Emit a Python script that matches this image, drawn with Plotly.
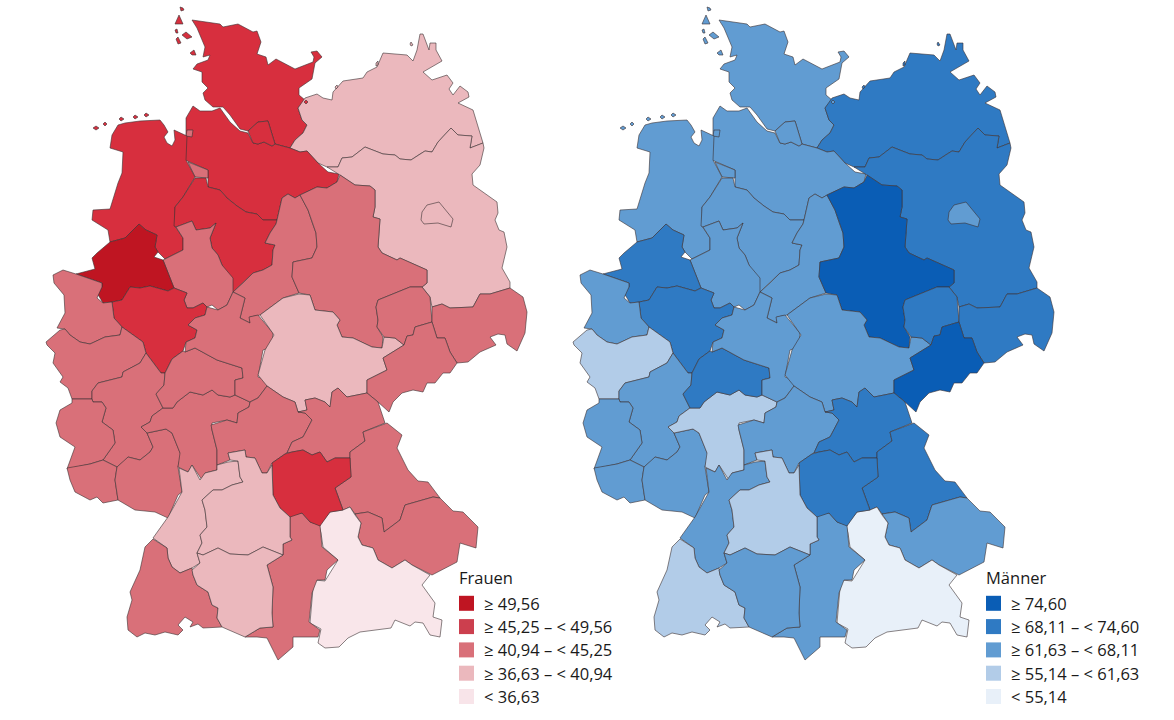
import plotly.graph_objects as go

# outlines, x/y on the left map's own grid
SCHLESWIG = [(192,20),(220,24),(223,27),(238,24),(253,32),(257,31),(261,42),(257,54),(266,57),(268,65),(276,59),(295,69),(313,62),(314,57),(311,52),(317,51),(322,57),(315,63),(312,79),(299,88),(299,95),(305,100),(298,108),(302,120),(307,125),(303,133),(295,140),(290,148),(275,144),(268,121),(258,122),(248,131),(240,129),(230,115),(223,107),(213,107),(205,100),(203,93),(208,88),(202,82),(202,72),(193,69),(197,64),(208,60),(210,55),(203,57),(205,47),(197,28)]
HAMBURG = [(248,131),(258,122),(268,121),(272,135),(275,144),(272,146),(264,142),(258,144),(253,143)]
MECKLENBURG = [(298,108),(302,120),(307,125),(303,133),(295,140),(290,148),(300,152),(307,151),(318,163),(327,167),(338,167),(342,158),(352,157),(365,147),(383,154),(395,155),(400,159),(411,160),(420,154),(425,151),(432,152),(438,142),(451,128),(458,135),(472,136),(470,148),(483,143),(473,110),(458,103),(469,97),(468,92),(460,86),(453,95),(449,89),(453,83),(447,75),(432,80),(423,72),(442,61),(436,50),(436,43),(430,43),(429,50),(423,34),(420,34),(417,50),(413,61),(407,55),(383,53),(377,67),(367,72),(363,78),(343,81),(333,92),(332,100),(323,98),(317,94),(305,98)]
LUENEBURG = [(186,118),(193,106),(200,111),(212,111),(220,108),(230,122),(240,131),(248,133),(253,143),(258,144),(264,142),(272,146),(275,144),(290,148),(300,152),(307,151),(318,163),(328,172),(339,174),(337,182),(327,188),(317,187),(300,195),(295,198),(288,194),(282,198),(277,220),(263,220),(257,214),(246,212),(237,206),(227,198),(220,190),(208,187),(208,170),(188,162),(185,160),(186,137)]
BREMEN = [(188,162),(208,170),(208,178),(195,177)]
BREMERHAVEN = [(187,130),(193,130),(192,137),(186,136)]
WESER_EMS = [(93,210),(110,209),(118,183),(122,173),(123,152),(110,148),(112,135),(118,125),(125,123),(140,121),(160,120),(164,125),(168,132),(164,137),(167,143),(172,146),(175,140),(174,130),(187,136),(186,160),(195,177),(183,197),(175,207),(175,226),(183,238),(183,250),(165,259),(158,252),(155,247),(157,235),(146,230),(139,224),(125,238),(110,242),(108,230),(92,220)]
HANNOVER = [(174,226),(175,207),(183,197),(195,178),(206,178),(208,187),(220,190),(227,198),(237,206),(246,212),(257,214),(263,220),(277,220),(276,224),(270,233),(265,243),(275,245),(273,250),(272,265),(263,270),(253,273),(243,283),(233,292),(222,265),(218,255),(212,248),(210,238),(216,223),(210,228),(196,230),(192,221),(176,227)]
MUENSTER = [(76,274),(95,269),(92,258),(97,253),(110,242),(125,238),(139,224),(146,230),(157,235),(155,247),(158,252),(154,257),(163,260),(174,288),(168,291),(150,286),(140,288),(130,287),(122,300),(112,302),(103,303),(97,293),(102,287),(102,283)]
DETMOLD = [(163,260),(183,250),(183,238),(176,227),(192,221),(196,230),(210,228),(216,223),(210,238),(212,248),(218,255),(222,265),(233,278),(233,292),(227,305),(218,310),(212,305),(207,307),(203,303),(193,308),(187,308),(184,300),(187,293),(174,288)]
ARNSBERG = [(130,287),(140,288),(150,286),(168,291),(174,288),(187,293),(184,300),(187,308),(193,308),(203,303),(207,307),(205,315),(195,318),(188,325),(197,330),(195,338),(186,342),(183,351),(172,359),(165,373),(161,373),(146,353),(143,342),(122,327),(114,318),(112,302),(122,300)]
AACHEN = [(53,275),(63,270),(76,274),(102,283),(102,287),(97,298),(103,303),(112,302),(114,318),(122,327),(120,335),(105,337),(90,344),(80,342),(70,335),(65,329),(57,328),(65,313),(64,295),(54,283)]
KOBLENZ = [(46,342),(60,330),(65,329),(70,335),(80,342),(90,344),(105,337),(120,335),(122,327),(143,342),(146,353),(140,363),(123,372),(122,377),(98,383),(92,391),(92,399),(72,399),(68,388),(60,382),(63,377),(53,363),(55,353),(47,345)]
RHEINHESSEN = [(92,399),(92,391),(98,383),(122,377),(123,372),(140,363),(146,353),(161,373),(165,373),(164,385),(156,394),(163,408),(152,416),(150,422),(141,427),(147,433),(153,447),(150,452),(140,460),(128,457),(123,462),(117,467),(103,460),(115,443),(113,430),(102,422),(106,408),(102,402),(93,402)]
TRIER = [(72,399),(92,399),(93,402),(102,402),(106,408),(102,422),(113,430),(115,443),(103,460),(90,464),(67,469),(70,460),(75,447),(60,437),(56,423),(60,410),(72,403)]
SAAR = [(67,468),(90,464),(103,460),(117,467),(115,480),(118,500),(103,503),(97,497),(90,500),(75,492),(70,480)]
KARLSRUHE = [(147,433),(153,447),(150,452),(140,460),(128,457),(123,462),(117,467),(115,480),(118,500),(135,510),(155,512),(168,518),(178,495),(182,492),(178,467),(181,455),(172,433),(166,429)]
DARMSTADT = [(141,427),(147,433),(166,429),(172,433),(180,453),(178,467),(188,472),(192,465),(202,480),(205,473),(217,470),(217,450),(212,430),(212,423),(227,420),(237,423),(238,413),(249,407),(250,402),(235,395),(230,397),(218,395),(212,390),(203,395),(190,392),(177,402),(173,408),(163,408),(152,416),(150,422)]
GIESSEN = [(165,373),(164,385),(156,394),(163,408),(173,408),(177,402),(190,392),(203,395),(212,390),(218,395),(230,397),(235,395),(235,380),(243,378),(242,368),(232,365),(217,360),(195,348),(185,352),(183,351),(172,359)]
KASSEL = [(186,342),(195,338),(197,330),(188,325),(195,318),(205,315),(207,307),(218,310),(227,305),(233,292),(245,298),(240,318),(250,323),(249,317),(258,315),(273,333),(272,347),(263,350),(258,377),(267,380),(267,386),(258,398),(250,402),(235,395),(235,380),(243,378),(242,368),(232,365),(217,360),(195,348),(185,352)]
GOETTINGEN = [(277,220),(282,198),(288,194),(295,198),(300,195),(308,210),(312,222),(316,233),(317,247),(312,258),(293,262),(292,277),(299,293),(283,298),(260,315),(250,317),(250,323),(240,318),(245,298),(233,292),(243,283),(253,273),(263,270),(272,265),(273,250),(275,245),(265,243),(270,233),(276,224)]
MAGDEBURG = [(340,175),(355,185),(370,186),(375,190),(375,207),(373,217),(380,219),(378,247),(382,253),(397,260),(400,258),(427,270),(427,283),(422,287),(410,287),(378,300),(376,307),(378,320),(377,327),(383,337),(382,348),(372,347),(353,338),(342,337),(337,325),(340,320),(333,312),(315,310),(310,295),(299,293),(292,277),(293,262),(312,258),(317,247),(316,233),(312,222),(308,210),(300,195),(317,187),(327,188),(337,182)]
BRANDENBURG = [(327,167),(338,167),(342,158),(352,157),(365,147),(383,154),(395,155),(400,159),(411,160),(420,154),(425,151),(432,152),(438,142),(451,128),(458,135),(472,136),(470,148),(483,143),(484,148),(480,165),(472,174),(473,185),(497,202),(498,213),(495,220),(499,230),(504,232),(507,247),(502,268),(510,282),(510,288),(490,294),(480,294),(473,307),(450,308),(442,304),(432,307),(430,297),(422,287),(427,283),(427,270),(400,258),(397,260),(382,253),(378,247),(380,219),(373,217),(375,207),(375,190),(370,186),(355,185),(340,175)]
BERLIN = [(422,212),(427,205),(439,202),(453,219),(451,227),(438,223),(424,224),(421,220)]
THUERINGEN = [(299,294),(310,295),(315,310),(333,312),(340,320),(337,325),(342,337),(353,338),(372,347),(382,348),(384,337),(395,338),(404,345),(383,358),(387,370),(367,380),(367,393),(347,397),(338,388),(332,392),(330,407),(325,402),(315,398),(305,400),(307,410),(298,412),(295,402),(283,397),(267,386),(258,375),(265,350),(274,335),(260,315),(283,298)]
HALLE = [(378,300),(410,287),(422,287),(430,297),(432,322),(415,327),(413,335),(407,336),(404,345),(395,338),(384,337),(377,327),(378,320),(376,307)]
CHEMNITZ = [(432,322),(437,338),(445,338),(450,352),(457,363),(450,373),(443,373),(435,383),(427,383),(423,392),(413,390),(402,393),(393,402),(389,412),(378,402),(367,393),(367,380),(387,370),(383,358),(404,345),(407,336),(413,335),(415,327)]
DRESDEN = [(432,307),(442,304),(450,308),(473,307),(480,294),(490,294),(510,288),(523,297),(527,312),(525,333),(517,351),(507,344),(505,335),(498,334),(490,337),(496,345),(480,352),(468,362),(457,363),(450,352),(445,338),(437,338),(432,322)]
UNTERFRANKEN = [(217,465),(217,450),(212,430),(211,425),(227,420),(237,423),(238,413),(249,407),(250,402),(258,398),(267,386),(283,397),(295,402),(298,412),(305,413),(312,420),(303,437),(292,442),(287,453),(285,454),(272,463),(267,473),(262,473),(255,458),(246,457),(245,450),(228,453),(230,460)]
OBERFRANKEN = [(298,412),(307,410),(305,400),(315,398),(325,402),(330,407),(332,392),(338,388),(347,397),(367,393),(378,402),(385,423),(363,432),(365,441),(350,452),(350,458),(335,458),(327,462),(320,452),(312,455),(303,450),(287,453),(292,442),(303,437),(312,420),(305,413)]
MITTELFRANKEN = [(272,463),(285,454),(292,452),(303,450),(312,455),(320,452),(327,462),(335,458),(350,458),(351,477),(335,488),(343,510),(330,512),(320,526),(310,522),(302,513),(290,517),(280,508),(273,495)]
OBERPFALZ = [(350,458),(350,452),(365,441),(363,432),(387,423),(402,435),(397,448),(408,470),(418,481),(428,482),(440,498),(433,497),(405,505),(400,520),(384,532),(382,518),(368,512),(355,514),(350,507),(343,510),(335,488),(351,477)]
NIEDERBAYERN = [(355,514),(368,512),(382,518),(384,532),(400,520),(405,505),(433,497),(440,498),(453,511),(463,512),(478,527),(476,548),(460,543),(457,562),(432,575),(412,565),(405,560),(392,568),(378,560),(373,548),(362,545),(358,537),(361,523)]
OBERBAYERN = [(319,526),(330,512),(343,510),(350,507),(355,515),(361,523),(358,537),(362,545),(373,548),(378,560),(392,568),(405,560),(412,565),(430,575),(422,585),(435,603),(433,617),(442,620),(440,637),(430,635),(423,623),(415,622),(410,626),(395,620),(391,628),(360,632),(348,638),(339,647),(325,648),(318,643),(321,629),(310,623),(313,588),(315,580),(325,581),(338,560),(323,547),(321,533)]
SCHWABEN = [(290,515),(302,513),(310,522),(320,525),(322,547),(338,560),(327,570),(325,580),(317,580),(312,593),(309,622),(320,630),(318,637),(293,637),(293,647),(278,660),(273,650),(267,638),(257,637),(245,637),(260,628),(273,627),(272,613),(273,587),(267,565),(283,555),(283,544),(292,540),(290,537)]
BADEN = [(179,468),(188,472),(192,465),(200,480),(205,473),(217,470),(217,465),(228,462),(238,461),(240,477),(243,482),(232,485),(222,490),(213,490),(202,500),(205,510),(207,527),(200,535),(202,543),(197,553),(200,563),(192,568),(180,573),(172,567),(168,558),(167,548),(153,538),(168,517),(182,492)]
STUTTGART = [(228,453),(245,450),(246,457),(255,458),(262,473),(267,473),(272,465),(273,495),(280,508),(290,517),(290,537),(292,540),(283,544),(283,555),(263,547),(248,555),(230,554),(218,548),(203,555),(197,553),(202,543),(200,535),(207,527),(205,510),(202,500),(213,490),(222,490),(232,485),(243,482),(240,477),(238,461),(230,460)]
FREIBURG = [(153,539),(167,548),(168,558),(172,567),(180,573),(192,568),(193,575),(197,585),(208,592),(212,605),(218,608),(217,618),(222,627),(203,628),(198,624),(190,627),(193,622),(185,617),(178,625),(183,630),(178,635),(165,632),(155,635),(145,633),(137,637),(128,630),(127,617),(132,600),(130,592),(140,570),(145,547)]
TUEBINGEN = [(192,570),(200,563),(197,553),(203,555),(218,548),(230,554),(248,555),(263,547),(283,555),(267,565),(273,587),(272,613),(273,627),(260,628),(245,637),(222,627),(217,618),(218,608),(212,605),(208,592),(197,585),(193,575)]

# small islands, one class with the mainland next to them
HALLIGEN = [
    [(180,7),(183,8),(184,10),(181,11)],
    [(175,24),(179,15),(183,24)],
    [(175,30),(177,29),(178,33),(176,33)],
    [(182,35),(186,32),(192,37),(187,39)],
    [(176,39),(178,37),(181,43),(178,44)],
    [(190,53),(194,50),(196,55),(192,55)],
    [(304,102),(306,100),(308,102),(306,104)],
]
FRISIAN = [
    [(93,128),(96,126),(99,128),(96,130)],
    [(103,124),(105,122),(107,124),(105,126)],
    [(119,119),(121,117),(124,119),(121,121)],
    [(133,117),(135,115),(138,117),(135,119)],
    [(144,115),(146,113),(149,115),(146,117)],
]
BALTIC = [
    [(410,44),(411,42),(413,45),(411,46)],
    [(376,63),(378,61),(378,65),(376,66)],
    [(335,87),(337,85),(338,87),(336,89)],
]

# name, outline, class women, class men (0 = highest)
REGIONS = [
    ("Schleswig-Holstein", SCHLESWIG, 1, 2), ("Mecklenburg-Vorpommern", MECKLENBURG, 3, 1),
    ("Lüneburg", LUENEBURG, 1, 2), ("Hamburg", HAMBURG, 1, 2), ("Bremen", BREMEN, 2, 2),
    ("Bremerhaven", BREMERHAVEN, 2, 2), ("Weser-Ems", WESER_EMS, 1, 2), ("Hannover", HANNOVER, 1, 2),
    ("Detmold", DETMOLD, 2, 2), ("Göttingen", GOETTINGEN, 2, 2), ("Brandenburg", BRANDENBURG, 3, 1),
    ("Berlin", BERLIN, 3, 2), ("Magdeburg", MAGDEBURG, 2, 0), ("Münster", MUENSTER, 0, 1),
    ("Arnsberg", ARNSBERG, 1, 1), ("Aachen", AACHEN, 2, 2), ("Koblenz", KOBLENZ, 2, 3),
    ("Rheinhessen", RHEINHESSEN, 2, 2), ("Trier", TRIER, 2, 2), ("Saar", SAAR, 2, 2),
    ("Karlsruhe", KARLSRUHE, 2, 2), ("Darmstadt", DARMSTADT, 2, 3), ("Gießen", GIESSEN, 2, 1),
    ("Kassel", KASSEL, 2, 2), ("Thüringen", THUERINGEN, 3, 2), ("Halle", HALLE, 2, 1),
    ("Dresden", DRESDEN, 2, 1), ("Chemnitz", CHEMNITZ, 2, 0), ("Unterfranken", UNTERFRANKEN, 2, 2),
    ("Oberfranken", OBERFRANKEN, 2, 1), ("Oberpfalz", OBERPFALZ, 2, 1), ("Niederbayern", NIEDERBAYERN, 2, 2),
    ("Oberbayern", OBERBAYERN, 4, 4), ("Schwaben", SCHWABEN, 2, 2), ("Mittelfranken", MITTELFRANKEN, 1, 1),
    ("Baden", BADEN, 3, 2), ("Stuttgart", STUTTGART, 3, 3), ("Freiburg", FREIBURG, 2, 3), ("Tübingen", TUEBINGEN, 3, 2),
]
ISLANDS = [(HALLIGEN, 1, 2), (FRISIAN, 1, 2), (BALTIC, 3, 1)]

WOMEN_COLORS = ["#BF1522", "#D72F3E", "#D97079", "#EBB8BD", "#F9E6EA"]
MEN_COLORS = ["#0A5DB5", "#2F7AC3", "#619CD2", "#B2CCE8", "#E8F0F9"]
WOMEN_SWATCHES = ["#BF1522", "#CC3F4E", "#D97079", "#EBB8BD", "#F8E4E9"]
WOMEN_LABELS = ["≥ 49,56", "≥ 45,25 – < 49,56", "≥ 40,94 – < 45,25", "≥ 36,63 – < 40,94", "< 36,63"]
MEN_LABELS = ["≥ 74,60", "≥ 68,11 – < 74,60", "≥ 61,63 – < 68,11", "≥ 55,14 – < 61,63", "< 55,14"]

FONT = "Open Sans"
LINE_COLOR = "#3b3033"
GRID_WIDTH = 647  # both maps use the same x grid, the right one just sits further over


def add_polygon(fig, points, color, xaxis, name):
    xs = [p[0] for p in points] + [points[0][0]]
    ys = [p[1] for p in points] + [points[0][1]]
    fig.add_trace(go.Scatter(
        x=xs, y=ys, mode="lines", fill="toself", fillcolor=color,
        line=dict(color=LINE_COLOR, width=0.6),
        xaxis=xaxis, yaxis="y", name=name, hoverinfo="name", showlegend=False,
    ))


def add_map(fig, colors, class_index, xaxis):
    for region in REGIONS:
        add_polygon(fig, region[1], colors[region[class_index]], xaxis, region[0])
    for group, women_class, men_class in ISLANDS:
        cls = women_class if class_index == 2 else men_class
        for points in group:
            add_polygon(fig, points, colors[cls], xaxis, "Insel")


def add_key(fig, title, labels, swatches, xaxis):
    ref = "x" if xaxis == "x" else "x2"
    fig.add_annotation(x=456.5, y=577, xref=ref, yref="y", text=title, showarrow=False,
                       xanchor="left", font=dict(family=FONT, size=16.5, color="#1a1a1a"))
    for i, label in enumerate(labels):
        y = 603.3 + i * 23.3
        fig.add_trace(go.Scatter(
            x=[466.5], y=[y], mode="markers",
            marker=dict(symbol="square", size=15, color=swatches[i], line=dict(width=0)),
            xaxis=xaxis, yaxis="y", hoverinfo="skip", showlegend=False,
        ))
        fig.add_annotation(x=482, y=y, xref=ref, yref="y", text=label, showarrow=False,
                           xanchor="left", font=dict(family=FONT, size=16.5, color="#1a1a1a"))


fig = go.Figure()
add_map(fig, WOMEN_COLORS, 2, "x")
add_map(fig, MEN_COLORS, 3, "x2")
add_key(fig, "Frauen", WOMEN_LABELS, WOMEN_SWATCHES, "x")
add_key(fig, "Männer", MEN_LABELS, MEN_COLORS, "x2")

hidden = dict(visible=False, fixedrange=True)
fig.update_layout(
    width=1174, height=720,
    margin=dict(l=0, r=0, t=0, b=0),
    paper_bgcolor="white", plot_bgcolor="rgba(0,0,0,0)",
    xaxis=dict(domain=[0, GRID_WIDTH / 1174], range=[0, GRID_WIDTH], **hidden),
    xaxis2=dict(domain=[1 - GRID_WIDTH / 1174, 1], range=[0, GRID_WIDTH], anchor="y", **hidden),
    yaxis=dict(domain=[0, 1], range=[720, 0], **hidden),
)

fig.write_html("out.html", post_script="document.body.style.margin='0';document.body.style.overflow='hidden';",
               config=dict(displayModeBar=False))
